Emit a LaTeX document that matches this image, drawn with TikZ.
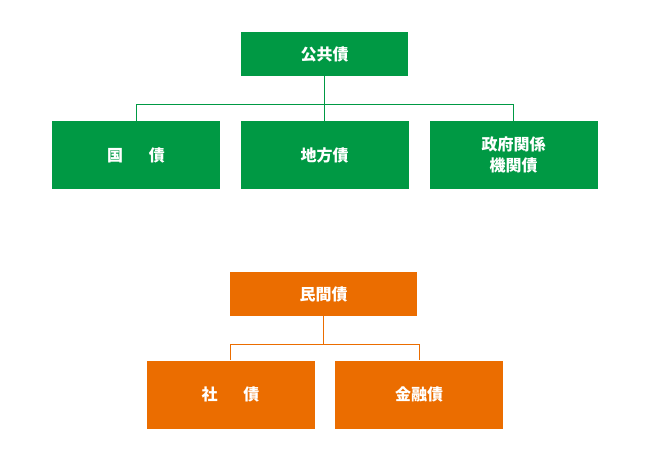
\documentclass[tikz,border=0pt]{standalone}
\usepackage{fontspec}
\newfontfamily\cjk{Noto Sans CJK JP}
\definecolor{pubgreen}{HTML}{009944}
\definecolor{prvorange}{HTML}{EB6D00}
\begin{document}
\begin{tikzpicture}[x=1pt,y=-1pt]
  % styles for the two groups
  \tikzset{
    bond/.style={minimum width=168pt,minimum height=68pt,inner sep=0pt,
      text=white,font=\cjk\bfseries\fontsize{16}{21}\selectfont,align=center},
    pubbox/.style={bond,fill=pubgreen},
    prvbox/.style={bond,fill=prvorange},
    publine/.style={draw=pubgreen,line width=0.8pt},
    prvline/.style={draw=prvorange,line width=0.8pt}
  }
  \useasboundingbox (0,0) rectangle (650,470);

  % public bonds
  \node[pubbox,minimum width=167pt,minimum height=44pt] (pub) at (324.5,54) {公共債};
  \node[pubbox] (kokusai) at (136,155) {国\hspace{1.6em}債};
  \node[pubbox] (chihou) at (324.5,155) {地方債};
  \node[pubbox] (seifu) at (513.5,155) {政府関係\\機関債};
  \coordinate (pj) at (324.5,104);
  \draw[publine] (pub.south) -- (pj);
  \foreach \n in {kokusai,chihou,seifu}
    \draw[publine] (pj) -| (\n.north);

  % private bonds
  \node[prvbox,minimum width=187pt,minimum height=44pt] (prv) at (323.5,294) {民間債};
  \node[prvbox] (shasai) at (230.5,394.5) {社\hspace{1.6em}債};
  \node[prvbox] (kinyu) at (419,394.5) {金融債};
  \coordinate (vj) at (323.5,344);
  \draw[prvline] (prv.south) -- (vj);
  \foreach \n in {shasai,kinyu}
    \draw[prvline] (vj) -| (\n.north);
\end{tikzpicture}
\end{document}
